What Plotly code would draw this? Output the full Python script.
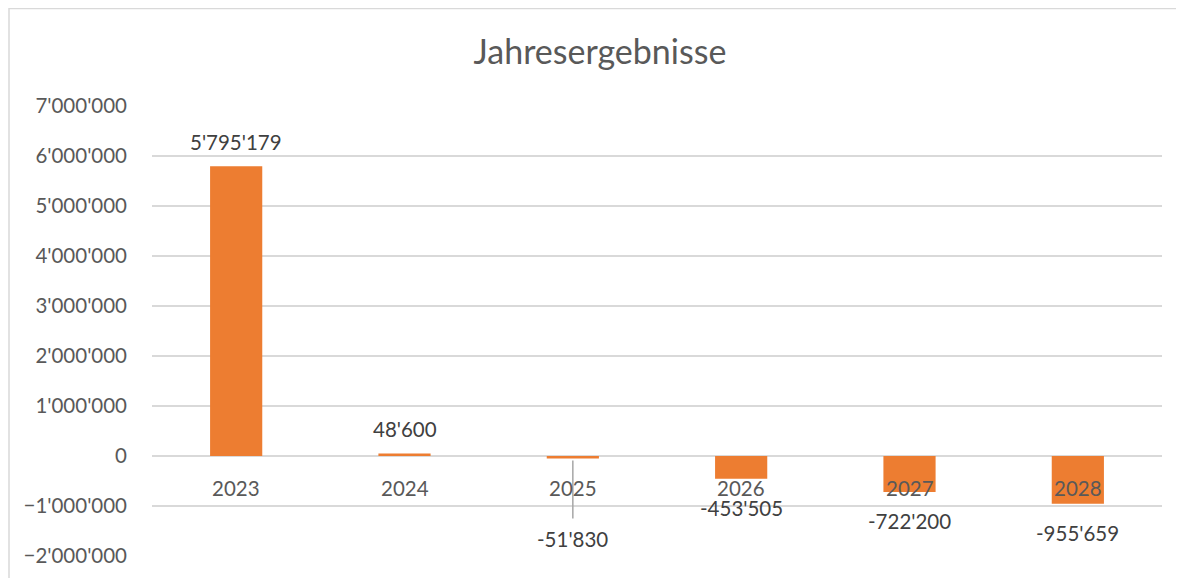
import plotly.graph_objects as go

# ---- data ----
years = ["2023", "2024", "2025", "2026", "2027", "2028"]
results = [5795179, 48600, -51830, -453505, -722200, -955659]
y_tick_values = [-2000000, -1000000, 0, 1000000, 2000000, 3000000, 4000000, 5000000, 6000000, 7000000]
title_text = "Jahresergebnisse"

FONT = "Lato, Carlito, Calibri, sans-serif"
GREY = "#595959"
DARK = "#404040"
GRID = "#D9D9D9"
ORANGE = "#ED7D31"

# the page body has an 8px margin, so the figure is laid out in its own coords
OFF = 8
W, H = 1184 - OFF, 578 - OFF
L, R, T, B = 152 - OFF, 22, 106 - OFF, 22

def fmt(v):
    return f"{v:,}".replace(",", "'")

fig = go.Figure()
fig.add_trace(go.Bar(x=years, y=results, marker=dict(color=ORANGE, line=dict(width=0)),
                     hoverinfo="x+y"))

annotations = []
# category labels sitting just under the zero line (x given as category index)
for i, yr in enumerate(years):
    annotations.append(dict(x=i, y=0, xref="x", yref="y", text=yr, showarrow=False,
                            yanchor="middle", yshift=-32,
                            font=dict(family=FONT, size=20.5, color=GREY)))
# data labels
for i, (yr, v) in enumerate(zip(years, results)):
    if yr == "2025":
        shift = -80
    elif v >= 0:
        shift = 24.5
    else:
        shift = -29
    annotations.append(dict(x=i, y=v, xref="x", yref="y", text=fmt(v), showarrow=False,
                            yanchor="middle", yshift=shift,
                            font=dict(family=FONT, size=20.5, color=DARK)))

idx_2025 = years.index("2025")
shapes = [
    # leader line for the moved 2025 label
    dict(type="line", xref="x", yref="y", x0=idx_2025, x1=idx_2025, ysizemode="pixel",
         yanchor=results[idx_2025], y0=-2, y1=-60, line=dict(color="#A6A6A6", width=1.5)),
]
# chart border (left + top), drawn in paper coordinates outside plot area
pw = W - L - R
ph = H - T - B
bx = (1 - L) / pw
by = 1 + (T - 0.5) / ph
shapes.append(dict(type="path", xref="paper", yref="paper",
                   path=f"M {bx},-0.2 L {bx},{by} L 1.2,{by}",
                   line=dict(color="#D9D9D9", width=1.5), layer="below"))

fig.update_layout(
    width=W, height=H,
    margin=dict(l=L, r=R, t=T, b=B, pad=0),
    paper_bgcolor="white", plot_bgcolor="white",
    separators=".'",
    bargap=0.69,
    showlegend=False,
    title=dict(text=title_text, x=(600 - OFF) / W, xanchor="center", xref="container",
               y=1 - (52 - OFF) / H, yanchor="middle", yref="container",
               font=dict(family=FONT, size=34, color=GREY)),
    xaxis=dict(type="category", range=[-0.5, 5.5], showticklabels=False, showgrid=False,
               zeroline=False, showline=False, ticks=""),
    yaxis=dict(range=[-2000000, 7000000], tickvals=y_tick_values, tickformat=",d",
               showgrid=True, gridcolor=GRID, gridwidth=1.5,
               zeroline=True, zerolinecolor=GRID, zerolinewidth=1.5,
               showline=False, ticks="", ticklabelstandoff=24,
               tickfont=dict(family=FONT, size=20.5, color=GREY)),
    annotations=annotations,
    shapes=shapes,
)

fig.write_html("out.html")
